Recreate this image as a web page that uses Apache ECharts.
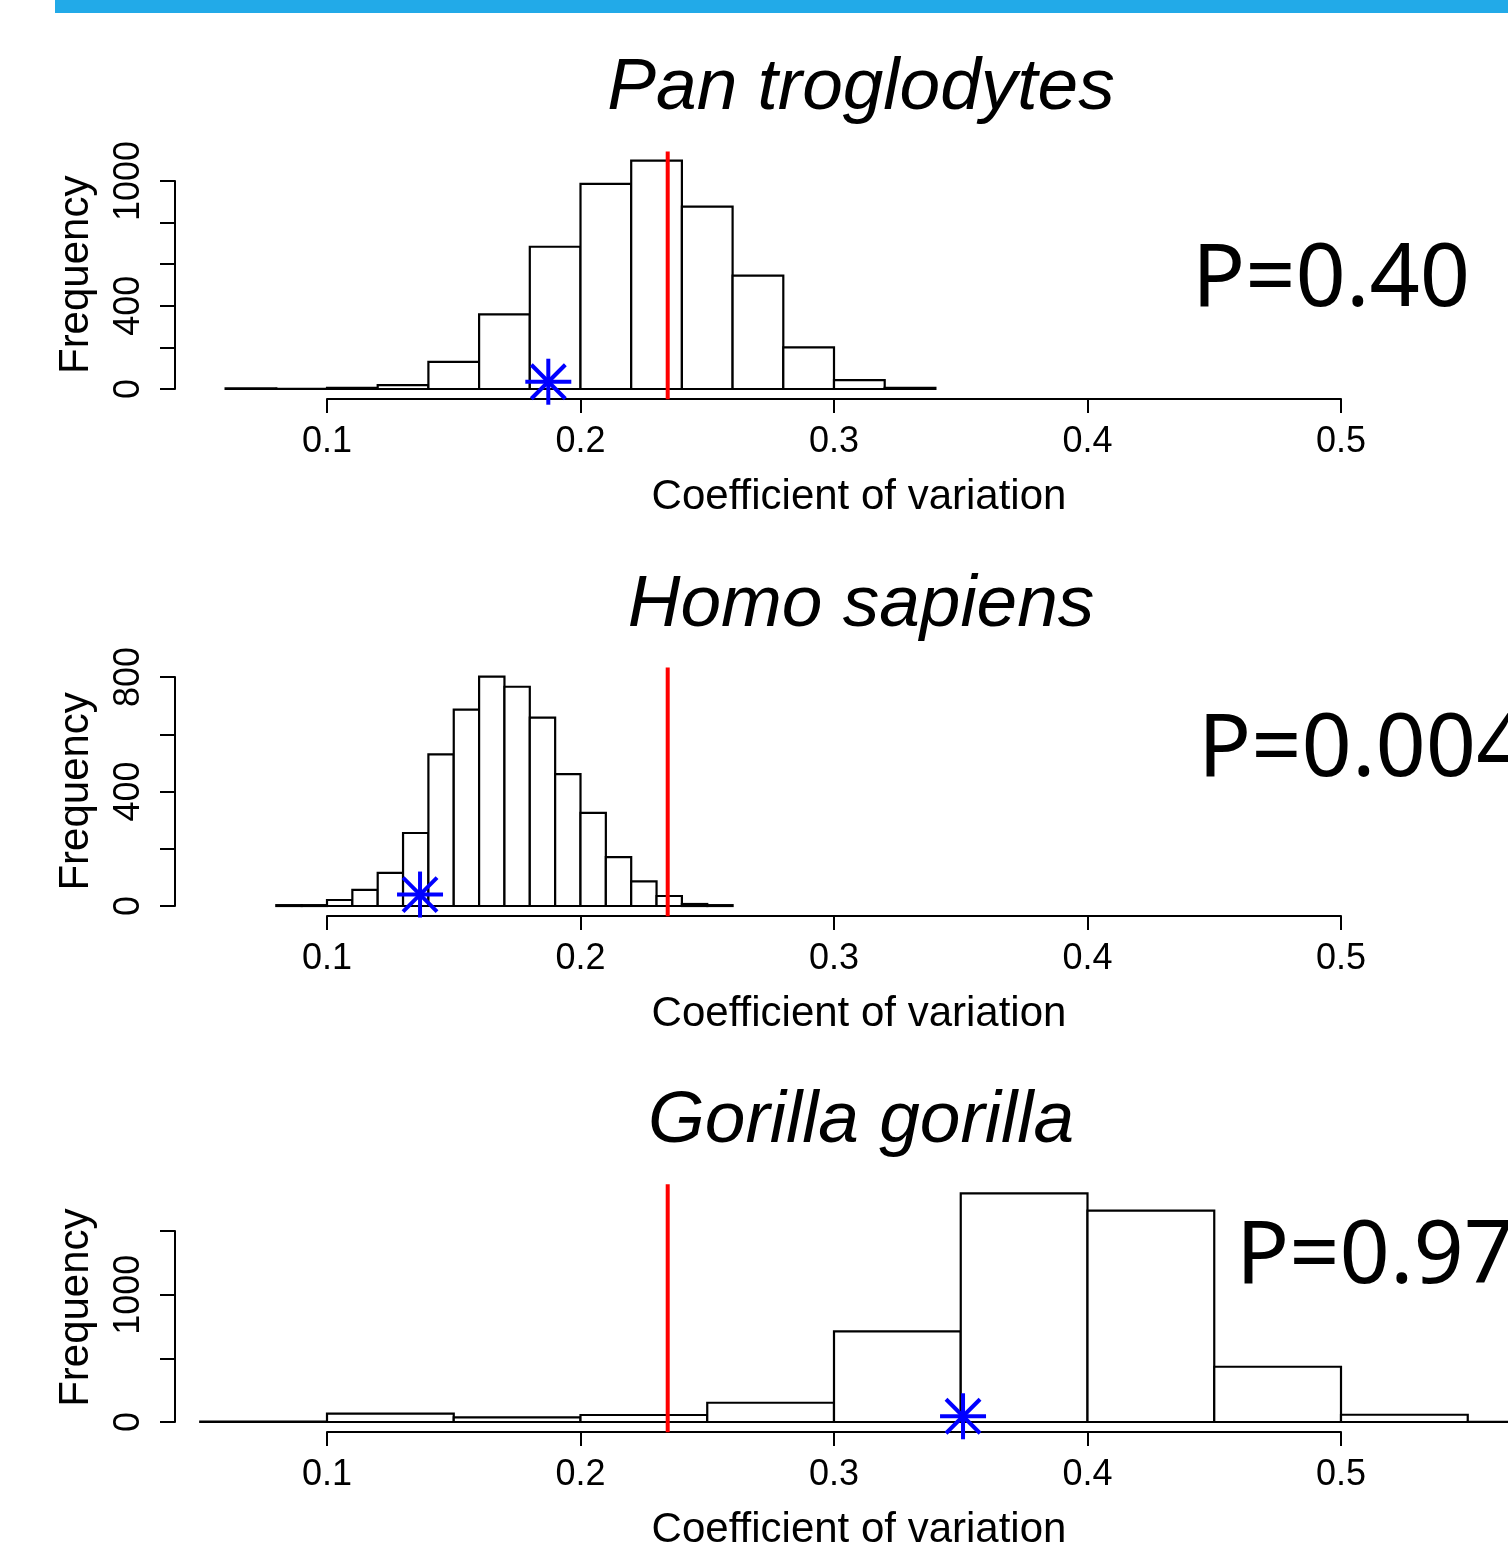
<!DOCTYPE html>
<html>
<head>
<meta charset="utf-8">
<script src="https://cdn.jsdelivr.net/npm/echarts@6/dist/echarts.min.js"></script>
<style>
html, body { margin: 0; padding: 0; background: #fff; }
#chart { width: 1508px; height: 1549px; }
</style>
</head>
<body>
<div id="chart"></div>
<script>
// Pan troglodytes, bins of 0.02 from 0.06
var panStart = 0.06, panWidth = 0.02;
var panCounts = [3, 1, 5, 19, 130, 359, 684, 986, 1098, 877, 545, 200, 43, 5];
var panObserved = [0.1873, 35];

// Homo sapiens, bins of 0.01 from 0.08
var homoStart = 0.08, homoWidth = 0.01;
var homoCounts = [3, 3, 21, 56, 116, 255, 530, 686, 801, 766, 658, 461, 325, 171, 86, 35, 7, 3];
var homoObserved = [0.1367, 40];

// Gorilla gorilla, bins of 0.05 from 0.05
var gorStart = 0.05, gorWidth = 0.05;
var gorCounts = [3, 65, 37, 55, 151, 711, 1796, 1660, 434, 57, 2];
var gorObserved = [0.3509, 45];

var refCV = 0.2344;
var pLabels = ['P=0.40', 'P=0.004', 'P=0.97'];
var species = ['Pan troglodytes', 'Homo sapiens', 'Gorilla gorilla'];
var yMaxTicks = [1000, 800, 1500];
var yIntervals = [200, 200, 500];
var yShownLabels = [[0, 400, 1000], [0, 400, 800], [0, 1000]];

var panels = [
  { start: panStart, width: panWidth, counts: panCounts, obs: panObserved, top: 181, height: 208, pLeft: 1187, pTop: 232 },
  { start: homoStart, width: homoWidth, counts: homoCounts, obs: homoObserved, top: 677, height: 229, pLeft: 1193, pTop: 702 },
  { start: gorStart, width: gorWidth, counts: gorCounts, obs: gorObserved, top: 1231, height: 191, pLeft: 1231, pTop: 1209 }
];

var font = 'Liberation Sans';
var grids = [], xAxes = [], yAxes = [], series = [], titles = [], graphics = [];

panels.forEach(function (p, i) {
  var axisY = p.top + p.height + 10;
  var maxCount = Math.max.apply(null, p.counts);

  grids.push({ left: 327, width: 1014, top: p.top, height: p.height });

  xAxes.push({
    gridIndex: i, type: 'value', min: 0.1, max: 0.5, interval: 0.1, offset: 10,
    axisLine: { show: true, onZero: false, lineStyle: { color: '#000', width: 2 } },
    axisTick: { show: true, length: 14, lineStyle: { color: '#000', width: 2 } },
    axisLabel: { color: '#000', fontFamily: font, fontSize: 36, margin: 25,
      formatter: function (v) { return v.toFixed(1); } },
    splitLine: { show: false }
  });

  var shown = yShownLabels[i];
  yAxes.push({
    gridIndex: i, type: 'value', min: 0, max: yMaxTicks[i], interval: yIntervals[i], offset: 152,
    axisLine: { show: true, onZero: false, lineStyle: { color: '#000', width: 2 } },
    axisTick: { show: true, length: 15, lineStyle: { color: '#000', width: 2 } },
    axisLabel: { color: '#000', fontFamily: font, fontSize: 36, rotate: 90, margin: 28,
      formatter: function (v) { return shown.indexOf(v) >= 0 ? String(v) : ''; } },
    splitLine: { show: false }
  });

  // histogram bars
  series.push({
    type: 'custom', xAxisIndex: i, yAxisIndex: i, clip: false, silent: true, z: 2,
    data: p.counts.map(function (c, k) { return [p.start + k * p.width, p.start + (k + 1) * p.width, c]; }),
    encode: { x: [0, 1], y: 2 },
    renderItem: function (params, api) {
      var a = api.coord([api.value(0), 0]);
      var b = api.coord([api.value(1), api.value(2)]);
      return { type: 'rect', shape: { x: a[0], y: b[1], width: b[0] - a[0], height: a[1] - b[1] },
        style: { fill: '#fff', stroke: '#000', lineWidth: 2.2 } };
    }
  });

  // observed value line
  series.push({
    type: 'line', xAxisIndex: i, yAxisIndex: i, clip: false, silent: true, z: 3,
    symbol: 'none', data: [[refCV, -0.045 * maxCount], [refCV, 1.04 * maxCount]],
    lineStyle: { color: '#ff0000', width: 4 }
  });

  // asterisk
  series.push({
    type: 'custom', xAxisIndex: i, yAxisIndex: i, clip: false, silent: true, z: 4,
    data: [p.obs],
    renderItem: function (params, api) {
      var c = api.coord([api.value(0), api.value(1)]);
      var r = 23, d = 17;
      var segs = [[-r, 0, r, 0], [0, -r, 0, r], [-d, -d, d, d], [-d, d, d, -d]];
      return { type: 'group', children: segs.map(function (s) {
        return { type: 'line', shape: { x1: c[0] + s[0], y1: c[1] + s[1], x2: c[0] + s[2], y2: c[1] + s[3] },
          style: { stroke: '#0000ff', lineWidth: 4 } };
      }) };
    }
  });

  titles.push({ text: species[i], left: 856, top: axisY - 352, textAlign: 'center',
    textStyle: { fontFamily: font, fontSize: 73, fontStyle: 'italic', fontWeight: 'normal', color: '#000' } });
  titles.push({ text: 'Coefficient of variation', left: 854, top: axisY + 72, textAlign: 'center',
    textStyle: { fontFamily: font, fontSize: 42, fontWeight: 'normal', color: '#000' } });
  titles.push({ text: pLabels[i], left: p.pLeft, top: p.pTop,
    textStyle: { fontFamily: 'Noto Sans', fontSize: 88, fontWeight: 'normal', color: '#000' } });

  graphics.push({ type: 'text', x: 76, y: p.top + p.height - (p.height * maxCount / yMaxTicks[i]) * 0.5, rotation: Math.PI / 2,
    style: { text: 'Frequency', fontFamily: font, fontSize: 42, fill: '#000', align: 'center', verticalAlign: 'middle' } });
});

graphics.push({ type: 'rect', shape: { x: 55, y: 0, width: 1453, height: 13 }, style: { fill: '#22aae8' } });

var chart = echarts.init(document.getElementById('chart'));
chart.setOption({
  animation: false,
  backgroundColor: '#fff',
  title: titles,
  grid: grids,
  xAxis: xAxes,
  yAxis: yAxes,
  series: series,
  graphic: graphics
});
</script>
</body>
</html>
